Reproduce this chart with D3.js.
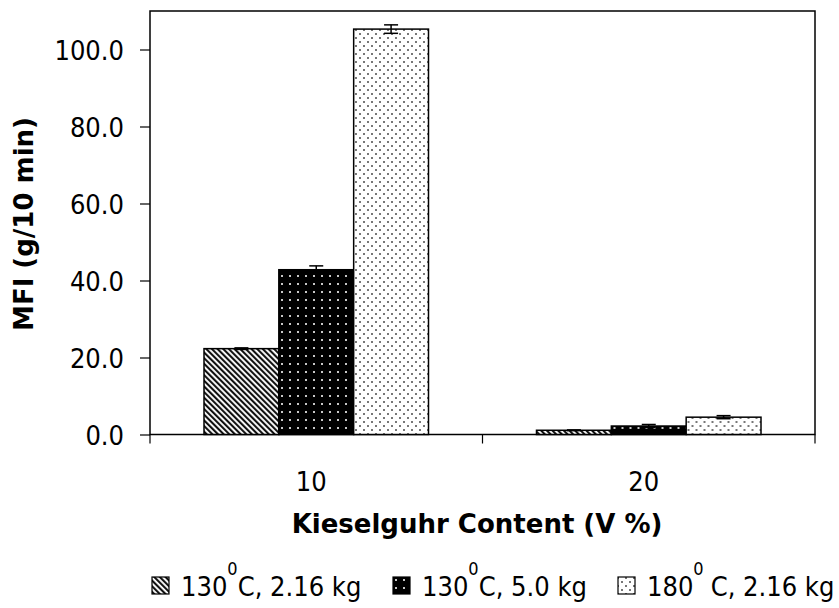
<!DOCTYPE html>
<html>
<head>
<meta charset="utf-8">
<script src="https://cdn.jsdelivr.net/npm/d3@7"></script>
<style>
  body { margin: 0; background: #fff; }
  svg { display: block; }
  text { font-family: "DejaVu Sans Condensed", "DejaVu Sans", sans-serif; fill: #000; }
  .title { font-family: "DejaVu Sans", sans-serif; font-weight: bold; font-size: 26px; }
</style>
</head>
<body>
<svg id="chart" width="839" height="608"></svg>
<script>
// MFI of the composites at two kieselguhr loadings, three test conditions
const categories = ["10", "20"];
const seriesNames = ["130C, 2.16 kg", "130C, 5.0 kg", "180C, 2.16 kg"];
const mfi130_216 = [22.3, 1.1];
const mfi130_50 = [42.8, 2.2];
const mfi180_216 = [105.3, 4.5];
const err130_216 = [0.2, 0.1];
const err130_50 = [1.0, 0.4];
const err180_216 = [1.1, 0.4];
const yTicks = [0, 20, 40, 60, 80, 100];

const values = [mfi130_216, mfi130_50, mfi180_216];
const errors = [err130_216, err130_50, err180_216];

const svg = d3.select("#chart");
const plotLeft = 150, plotRight = 815, plotTop = 11, plotBottom = 434.5;

const x = d3.scaleBand().domain(categories).range([plotLeft, plotRight]).padding(0);
// bars fill the middle of each category band
const inner = d3.scaleBand().domain(d3.range(3)).range([54, x.bandwidth() - 54]).padding(0);
const y = d3.scaleLinear().domain([0, 110]).range([plotBottom, plotTop]);

// fill patterns
const defs = svg.append("defs");
const p1 = defs.append("pattern").attr("id", "pat0").attr("patternUnits", "userSpaceOnUse")
  .attr("width", 4).attr("height", 4).attr("patternTransform", "rotate(-45)");
p1.append("rect").attr("width", 4).attr("height", 4).attr("fill", "#fff");
p1.append("rect").attr("width", 2.1).attr("height", 4).attr("fill", "#111");

const p2 = defs.append("pattern").attr("id", "pat1").attr("patternUnits", "userSpaceOnUse")
  .attr("width", 8).attr("height", 8);
p2.append("rect").attr("width", 8).attr("height", 8).attr("fill", "#000");
p2.append("rect").attr("x", 3).attr("y", 3).attr("width", 2).attr("height", 2).attr("fill", "#c8c8c8");

const p3 = defs.append("pattern").attr("id", "pat2").attr("patternUnits", "userSpaceOnUse")
  .attr("width", 8).attr("height", 8);
p3.append("rect").attr("width", 8).attr("height", 8).attr("fill", "#fff");
p3.append("rect").attr("x", 1).attr("y", 1).attr("width", 2).attr("height", 2).attr("fill", "#777");
p3.append("rect").attr("x", 5).attr("y", 5).attr("width", 2).attr("height", 2).attr("fill", "#777");

// plot frame
svg.append("rect").attr("x", plotLeft).attr("y", plotTop).attr("width", plotRight - plotLeft).attr("height", plotBottom - plotTop)
  .attr("fill", "none").attr("stroke", "#000").attr("stroke-width", 1.5);

// bars with error bars
const groups = svg.append("g").selectAll("g").data(categories).join("g")
  .attr("transform", d => `translate(${x(d)},0)`);
groups.each(function(cat, ci) {
  const g = d3.select(this);
  values.forEach((vals, si) => {
    const v = vals[ci], e = errors[si][ci];
    const bx = inner(si), bw = inner.bandwidth();
    g.append("rect").attr("x", bx).attr("y", y(v)).attr("width", bw).attr("height", y(0) - y(v))
      .attr("fill", `url(#pat${si})`).attr("stroke", "#000").attr("stroke-width", 1.5);
    const cx = bx + bw / 2;
    g.append("line").attr("x1", cx).attr("x2", cx).attr("y1", y(v + e)).attr("y2", y(v - e))
      .attr("stroke", "#000").attr("stroke-width", 1.5);
    [v + e, v - e].forEach(t => g.append("line").attr("x1", cx - 7).attr("x2", cx + 7)
      .attr("y1", y(t)).attr("y2", y(t)).attr("stroke", "#000").attr("stroke-width", 1.5));
  });
});

// y axis
const yAxis = svg.append("g").attr("transform", `translate(${plotLeft},0)`)
  .call(d3.axisLeft(y).tickValues(yTicks).tickFormat(d3.format(".1f")).tickSize(10).tickPadding(16));
yAxis.select(".domain").remove();
yAxis.selectAll("line").attr("stroke", "#000").attr("stroke-width", 1.2);
yAxis.selectAll("text").style("font-size", "27px").attr("dy", "0.36em");

// x axis: ticks at category boundaries
const xAxisG = svg.append("g").attr("transform", `translate(0,${plotBottom})`);
const bounds = [plotLeft, ...categories.slice(1).map(c => x(c)), plotRight];
xAxisG.selectAll("line").data(bounds).join("line")
  .attr("x1", d => d).attr("x2", d => d).attr("y1", 0).attr("y2", 9)
  .attr("stroke", "#000").attr("stroke-width", 1.2);
xAxisG.selectAll("text").data(categories).join("text")
  .attr("x", d => x(d) + x.bandwidth() / 2 - 5).attr("y", 491 - plotBottom).attr("text-anchor", "middle")
  .style("font-size", "27px").text(d => d);

// axis titles
svg.append("text").attr("class", "title").attr("x", 477).attr("y", 533).attr("text-anchor", "middle")
  .text("Kieselguhr Content (V %)");
svg.append("text").attr("class", "title").attr("transform", "translate(33,224) rotate(-90)").attr("text-anchor", "middle")
  .text("MFI (g/10 min)");

// legend
const legendX = [151, 392, 617];
const legend = svg.append("g");
seriesNames.forEach((name, i) => {
  const lx = legendX[i];
  legend.append("rect").attr("x", lx + 1).attr("y", 577).attr("width", 17).attr("height", 17)
    .attr("fill", `url(#pat${i})`).attr("stroke", "#000").attr("stroke-width", 1.2);
  const t = legend.append("text").attr("x", lx + 30).attr("y", 596).style("font-size", "27px");
  const temp = name.slice(0, 3), rest = name.slice(3);
  t.append("tspan").text(temp);
  t.append("tspan").attr("dy", -21).style("font-size", "18px").text("0");
  t.append("tspan").attr("dy", 21).attr("dx", i === 2 ? 7 : 0).text(rest);
});
</script>
</body>
</html>
